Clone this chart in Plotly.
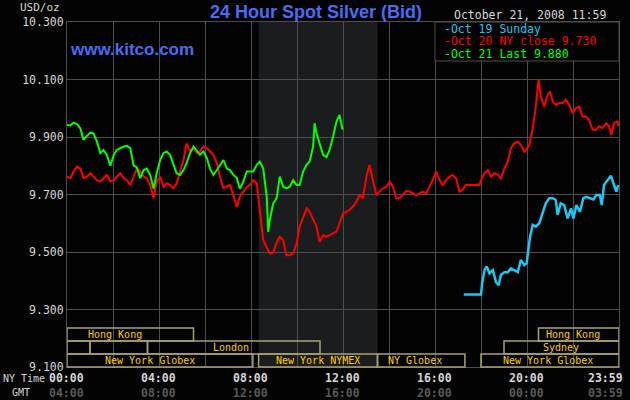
import plotly.graph_objects as go

#------------------------------------------------------------------------------#
#     data: minutes since NY midnight, price USD/oz         #
#------------------------------------------------------------------------------#
red_min = [0, 9, 17, 26, 35, 43, 52, 61, 69, 78, 87, 95, 104, 113, 122, 130,
           139, 148, 156, 165, 174, 182, 191, 200, 208, 217, 226, 234, 243,
           252, 260, 269, 278, 286, 295, 304, 312, 321, 330, 339, 347, 356,
           365, 373, 382, 391, 399, 408, 417, 425, 434, 443, 451, 460, 469,
           477, 486, 495,
           503, 512, 520, 529, 538, 546, 555, 564, 572, 581, 590, 599, 607,
           616, 625, 633, 642, 651, 659, 668, 677, 685, 694, 703, 711, 720,
           729, 737, 746, 755, 763, 772, 781, 789, 798, 807, 815, 824, 833,
           842, 850, 859, 868, 876, 885, 894, 902, 911, 920, 928, 937, 946,
           954, 963, 972, 980, 989, 998, 1006, 1015, 1024, 1032, 1041, 1050,
           1076, 1080, 1089, 1098, 1106, 1115, 1124, 1132, 1141, 1150, 1158,
           1167, 1176, 1184, 1193, 1197, 1206, 1215, 1222, 1228, 1230, 1236,
           1245, 1254, 1260, 1267, 1275, 1284, 1293, 1301, 1310, 1319, 1327,
           1336, 1345, 1353, 1362, 1371, 1380, 1388, 1397, 1406, 1414, 1420,
           1427, 1436, 1439]
red_px = [9.762, 9.757, 9.78, 9.797, 9.79, 9.757, 9.762, 9.774, 9.762, 9.75,
          9.745, 9.757, 9.768, 9.745, 9.75, 9.762, 9.774, 9.757, 9.75, 9.733,
          9.762, 9.79, 9.78, 9.762, 9.757, 9.733, 9.687, 9.745, 9.762, 9.727,
          9.739, 9.733, 9.722, 9.739, 9.78, 9.82, 9.878, 9.85, 9.861, 9.844,
          9.85, 9.867, 9.861, 9.85, 9.838, 9.809, 9.762, 9.722, 9.727, 9.733,
          9.698, 9.657, 9.692, 9.71, 9.727, 9.733, 9.75, 9.739,
          9.646, 9.541, 9.518, 9.495, 9.497, 9.53, 9.553, 9.541, 9.489, 9.489,
          9.495, 9.53, 9.588, 9.617, 9.652, 9.64, 9.611, 9.588, 9.535, 9.559,
          9.553, 9.559, 9.565, 9.571, 9.6, 9.635, 9.64, 9.646, 9.658, 9.675,
          9.698, 9.687, 9.762, 9.803, 9.75, 9.698, 9.71, 9.721, 9.727, 9.745,
          9.727, 9.687, 9.687, 9.698, 9.713, 9.71, 9.704, 9.698, 9.704, 9.71,
          9.704, 9.727,
          9.75, 9.78, 9.75, 9.733, 9.75, 9.762, 9.768, 9.756, 9.71, 9.716,
          9.733, 9.733, 9.733, 9.75, 9.774, 9.785, 9.762, 9.774, 9.768, 9.756,
          9.79, 9.814, 9.861, 9.878, 9.884, 9.872, 9.849, 9.855, 9.872, 9.931,
          9.994, 10.07, 10.10, 10.041, 10.006, 10.047, 10.058, 10.024, 10.012,
          10.018, 10.018, 10.03, 10.012, 9.983, 10.0, 10.006, 9.971, 9.971,
          9.96, 9.925, 9.925, 9.937, 9.931, 9.948, 9.937, 9.907, 9.948, 9.954,
          9.937]

green_min = [0, 9, 17, 26, 35, 43, 52, 61, 69, 78, 87, 95, 104, 113, 122,
             130, 139, 148, 156, 165, 174, 182, 191, 200, 208, 217, 226, 234,
             243, 252, 260, 269, 278, 286, 295, 304, 312, 321, 330, 339, 347,
             356, 365, 373, 382, 391, 399, 408, 417, 425, 434, 443, 451, 460,
             469, 477, 486, 495, 503,
             512, 521, 525, 529, 538, 547, 555, 564, 573, 581, 590, 599, 607,
             616, 625, 633, 642, 646, 651, 659, 668, 677, 685, 694, 703, 711,
             716, 719]
green_px = [9.942, 9.94, 9.95, 9.945, 9.93, 9.89, 9.904, 9.915, 9.913, 9.884,
            9.844, 9.855, 9.838, 9.80, 9.838, 9.855, 9.861, 9.867, 9.869,
            9.861, 9.80, 9.795, 9.757, 9.785, 9.79, 9.768, 9.72, 9.774, 9.82,
            9.844, 9.849, 9.838, 9.803, 9.774, 9.768, 9.785, 9.809, 9.844,
            9.867, 9.85, 9.838, 9.85, 9.826, 9.79, 9.768, 9.785, 9.803, 9.82,
            9.79, 9.785, 9.768, 9.757, 9.72, 9.745, 9.78, 9.78, 9.78, 9.803,
            9.814,
            9.79, 9.692, 9.57, 9.611, 9.669, 9.687, 9.762, 9.727, 9.721, 9.727,
            9.75, 9.733, 9.733, 9.78, 9.803, 9.815, 9.867, 9.948, 9.913, 9.878,
            9.838, 9.83, 9.855, 9.90, 9.954, 9.977, 9.948, 9.925]

cyan_min = [1035, 1080, 1083, 1089, 1095, 1102, 1111, 1119, 1126, 1132, 1141,
            1150, 1158, 1167, 1176, 1184, 1193, 1199, 1203, 1208, 1215, 1223,
            1232, 1241, 1249, 1258, 1267, 1275, 1280, 1288, 1297, 1306, 1315,
            1321, 1329, 1338, 1347, 1355, 1364, 1373, 1381, 1390, 1395, 1401,
            1410, 1419, 1427, 1433, 1438]
cyan_px = [9.352, 9.352, 9.391, 9.437, 9.45, 9.426, 9.437, 9.396, 9.384, 9.42,
           9.43, 9.43, 9.443, 9.437, 9.43, 9.472, 9.455, 9.461, 9.513, 9.553,
           9.594, 9.588, 9.6, 9.635, 9.669, 9.687, 9.687, 9.681, 9.629, 9.669,
           9.663, 9.617, 9.652, 9.617, 9.663, 9.64, 9.687, 9.692, 9.687, 9.683,
           9.698, 9.698, 9.663, 9.733, 9.75, 9.765, 9.733, 9.71, 9.733]

y_ticks = [9.1, 9.3, 9.5, 9.7, 9.9, 10.1, 10.3]
y_labels = ['9.100', '9.300', '9.500', '9.700', '9.900', '10.100', '10.300']
x_label_hours = [0, 4, 8, 12, 16, 20, 24]
ny_labels = ['00:00', '04:00', '08:00', '12:00', '16:00', '20:00', '23:59']
gmt_labels = ['04:00', '08:00', '12:00', '16:00', '20:00', '00:00', '03:59']

# trading sessions (NY hours), row 1 is the top strip
session_names = ['Hong Kong', '', '', 'London', 'New York Globex',
                 'New York NYMEX', 'NY Globex', 'New York Globex', 'Sydney',
                 'Hong Kong']
session_start = [0, 0, 1, 3.5, 0, 8.33, 13.5, 18, 19, 20.5]
session_end = [5.5, 1, 3.5, 11, 8.08, 13.5, 17.3, 24, 24, 24]
session_row = [1, 2, 2, 2, 3, 3, 3, 3, 2, 1]
session_label_at = [2.1, None, None, 7.13, 3.61, 10.9, 15.15, 20.92, 21.49, 22.0]

#------------------------------------------------------------------------------#
#     figure                                                                   #
#------------------------------------------------------------------------------#
MONO = 'DejaVu Sans Mono'
BLUE = '#4a6cf2'
GRID = '#4e4e4e'
KHAKI = '#a8a272'
LIGHT = '#d6d6d6'

fig = go.Figure()
fig.add_trace(go.Scatter(x=[m / 60 for m in cyan_min], y=cyan_px, mode='lines',
                         line=dict(color='#1ec6f2', width=2.5)))
fig.add_trace(go.Scatter(x=[m / 60 for m in red_min], y=red_px, mode='lines',
                         line=dict(color='#ff0000', width=2)))
fig.add_trace(go.Scatter(x=[m / 60 for m in green_min], y=green_px,
                         mode='lines', line=dict(color='#00ff00', width=2)))

fig.update_layout(
    width=630, height=400,
    margin=dict(l=67, r=11, t=22, b=33),
    paper_bgcolor='#030303', plot_bgcolor='#030303',
    showlegend=False,
    title=dict(text='<b>24 Hour Spot Silver (Bid)</b>', x=316 / 630,
               xanchor='center', y=1 - 12 / 400, yanchor='middle',
               font=dict(family='Liberation Sans', size=18, color=BLUE)),
)
fig.update_xaxes(range=[0, 24], tickvals=list(range(0, 25, 2)),
                 showticklabels=False, showgrid=True, gridcolor=GRID,
                 gridwidth=1, zeroline=False, showline=True, linecolor=GRID,
                 mirror=True)
fig.update_yaxes(range=[9.1, 10.3], tickvals=y_ticks, ticktext=y_labels,
                 tickfont=dict(family=MONO, size=11.5, color=LIGHT),
                 showgrid=True, gridcolor=GRID, gridwidth=1, zeroline=False,
                 showline=True, linecolor=GRID, mirror=True)

# NYMEX floor hours shading
fig.add_shape(type='rect', xref='x', yref='paper', x0=8.33, x1=13.5, y0=0,
              y1=1, fillcolor='#1b1c1e', line_width=0, layer='below')

# legend box
fig.add_shape(type='rect', xref='x', yref='paper', x0=16, x1=24, y0=0.887,
              y1=1, fillcolor='#030303', line=dict(color=GRID, width=1),
              layer='above')

# session strips
row_h = 13 / 345
for name, s, e, r, lab in zip(session_names, session_start, session_end,
                              session_row, session_label_at):
    y0 = (3 - r) * row_h
    fig.add_shape(type='rect', xref='x', yref='paper', x0=s, x1=e, y0=y0,
                  y1=y0 + row_h, line=dict(color=KHAKI, width=1.5),
                  layer='above')
    if name:
        fig.add_annotation(text=name, x=lab, y=y0 + row_h / 2, xref='x',
                           yref='paper', showarrow=False, yanchor='middle',
                           font=dict(family=MONO, size=10, color='#ffcc00'))

# time labels under the axis
for h, ny, gmt in zip(x_label_hours, ny_labels, gmt_labels):
    anchor = 'right' if h == 24 else 'center'
    shift = 6 if h == 24 else -1
    fig.add_annotation(text='<b>' + ny + '</b>', x=h, y=-0.032, xref='x',
                       yref='paper', showarrow=False, xanchor=anchor,
                       xshift=shift, yanchor='middle',
                       font=dict(family=MONO, size=11.5, color=LIGHT))
    fig.add_annotation(text='<b>' + gmt + '</b>', x=h, y=-0.075, xref='x',
                       yref='paper', showarrow=False, xanchor=anchor,
                       xshift=shift, yanchor='middle',
                       font=dict(family=MONO, size=11.5, color='#5a5a5a'))

texts = [
    dict(text='NY Time', x=-0.078, y=-0.032, xanchor='center', size=10,
         color=LIGHT),
    dict(text='GMT', x=-0.084, y=-0.075, xanchor='center', size=10,
         color=LIGHT),
    dict(text='USD/oz', x=-0.009, y=1.0406, xanchor='right', size=11,
         color=LIGHT),
    dict(text='October 21, 2008 11:59', x=0.98, y=1.0203, xanchor='right',
         size=11.5, color=LIGHT),
    dict(text='-Oct 19 Sunday', x=0.679, y=0.979, xanchor='left', size=11.5,
         color='#1ec6f2'),
    dict(text='-Oct 20 NY close 9.730', x=0.679, y=0.944, xanchor='left',
         size=11.5, color='#ff0000'),
    dict(text='-Oct 21 Last 9.880', x=0.679, y=0.908, xanchor='left',
         size=11.5, color='#00ff00'),
]
for t in texts:
    fig.add_annotation(text=t['text'], x=t['x'], y=t['y'], xref='paper',
                       yref='paper', showarrow=False, xanchor=t['xanchor'],
                       yanchor='middle',
                       font=dict(family=MONO, size=t['size'], color=t['color']))

fig.add_annotation(text='<b>www.kitco.com</b>', x=0.002, y=0.919,
                   xref='paper', yref='paper', showarrow=False,
                   xanchor='left', yanchor='middle',
                   font=dict(family='Liberation Sans', size=17, color=BLUE))

# page body has a default 8px margin; drop it so the chart sits at 0,0
fig.write_html('out.html', config=dict(displayModeBar=False),
               post_script="document.body.style.margin='0';"
                           "document.body.style.background='#030303';")
